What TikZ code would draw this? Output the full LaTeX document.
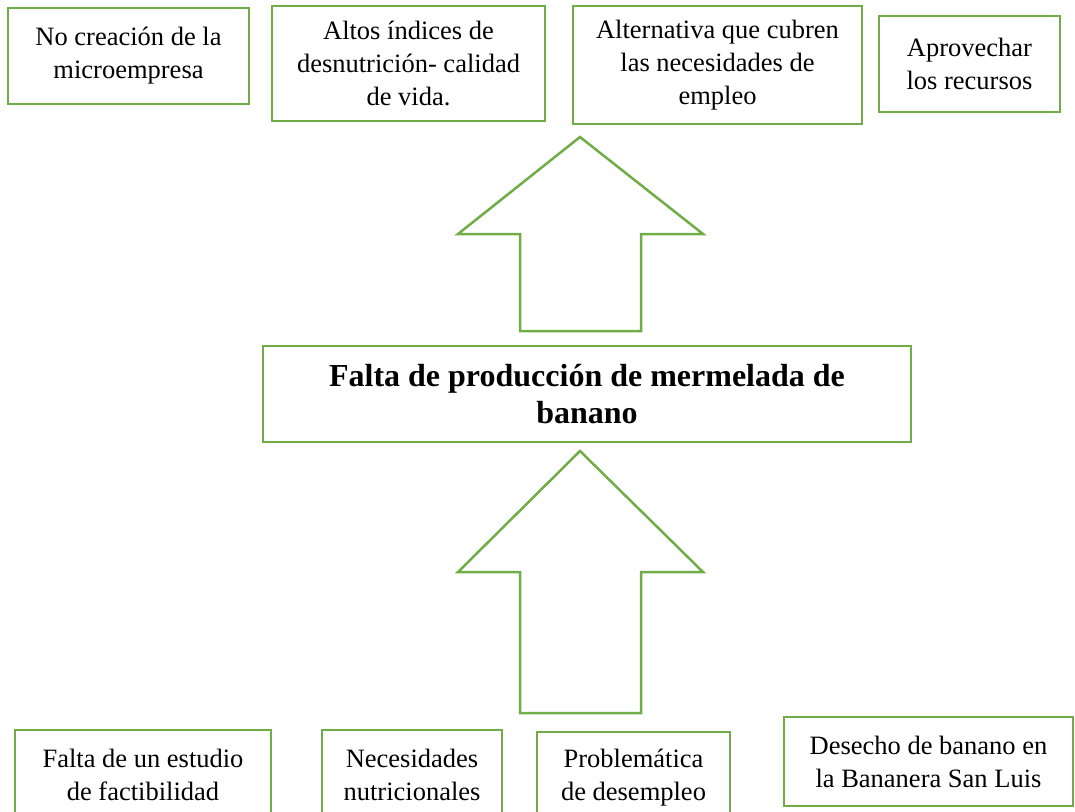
\documentclass[tikz,border=0pt]{standalone}
\usepackage{fontspec}
\setmainfont{Liberation Serif}
\usetikzlibrary{positioning}

\definecolor{verdecaja}{RGB}{112,173,71}
\newcommand{\txtnormal}{\fontsize{26.5}{33}\selectfont}
\newcommand{\txtbold}{\fontsize{32}{37}\selectfont\bfseries}

\begin{document}
\begin{tikzpicture}[
                x=1pt, y=-1pt,
                caja/.style={draw=verdecaja, line width=2.8pt, align=center, inner sep=0pt, font=\txtnormal},
                flecha/.style={draw=verdecaja, line width=2.5pt, line join=miter}
                ]

                \path[use as bounding box, clip] (0,0) rectangle (1075,811);

                % efectos
                \node [caja, minimum width=241pt, minimum height=96pt] (efecto1) at (128.5,56) {No creación de la\\microempresa};
                \node [caja, minimum width=273pt, minimum height=115pt] (efecto2) at (408.5,63.5) {Altos índices de\\desnutrición- calidad\\de vida.};
                \node [caja, minimum width=289pt, minimum height=118pt] (efecto3) at (717.5,65) {Alternativa que cubren\\las necesidades de\\empleo};
                \node [caja, minimum width=181pt, minimum height=96pt] (efecto4) at (969.5,64) {Aprovechar\\los recursos};

                % problema central
                \node [caja, font=\txtbold, minimum width=648pt, minimum height=96pt] (problema) at (587,394) {Falta de producción de mermelada de\\banano};

                \draw[flecha] (580,137) -- (703,234) -- (641,234) -- (641,331) -- (520,331) -- (520,234) -- (458,234) -- cycle;
                \draw[flecha] (580,451) -- (703,572) -- (641,572) -- (641,713) -- (520,713) -- (520,572) -- (458,572) -- cycle;

                % causas
                \node [caja, minimum width=256pt, minimum height=90pt] (causa1) at (143,775) {Falta de un estudio\\de factibilidad};
                \node [caja, minimum width=180pt, minimum height=90pt] (causa2) at (412,775) {Necesidades\\nutricionales};
                \node [caja, minimum width=193pt, minimum height=92pt] (causa3) at (633.5,778) {Problemática\\de desempleo};
                \node [caja, minimum width=289pt, minimum height=89pt] (causa4) at (928.5,761.5) {Desecho de banano en\\la Bananera San Luis};
            \end{tikzpicture}
\end{document}
